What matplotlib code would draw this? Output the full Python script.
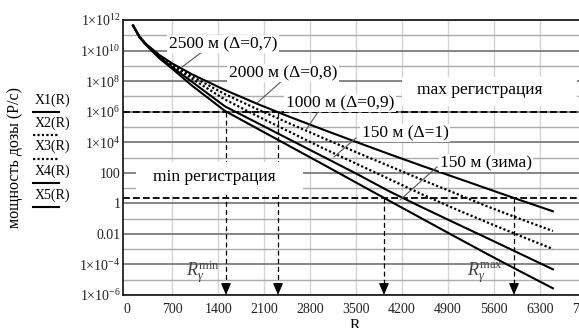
import numpy as np
import matplotlib
matplotlib.use("Agg")
import matplotlib.pyplot as plt
from matplotlib.patches import Rectangle
from matplotlib.lines import Line2D

plt.rcParams['font.family'] = ['Liberation Serif', 'DejaVu Serif']
plt.rcParams['mathtext.fontset'] = 'custom'
plt.rcParams['mathtext.rm'] = 'Liberation Serif'
plt.rcParams['mathtext.it'] = 'Liberation Serif:italic'
plt.rcParams['mathtext.bf'] = 'Liberation Serif:bold'

# ---------------- data ----------------
R = [100, 200, 300, 500, 700, 1000, 1500, 2000, 2500, 3000, 3500, 4000,
     4500, 5000, 5500, 6000, 6500]
# log10 of dose rate for each curve
X1 = [11.64, 10.90, 10.42, 9.71, 9.15, 8.44, 7.42, 6.50, 5.64, 4.82, 4.02,
      3.23, 2.46, 1.71, 0.96, 0.21, -0.52]
X2 = [11.64, 10.89, 10.40, 9.67, 9.08, 8.30, 7.15, 6.15, 5.20, 4.27, 3.35,
      2.45, 1.55, 0.68, -0.20, -1.02, -1.81]
X3 = [11.64, 10.88, 10.39, 9.63, 9.00, 8.15, 6.80, 5.70, 4.65, 3.60, 2.60,
      1.60, 0.60, -0.35, -1.25, -2.13, -2.99]
X4 = [11.64, 10.87, 10.38, 9.58, 8.90, 7.95, 6.35, 5.25, 4.15, 3.05, 1.95,
      0.80, -0.25, -1.27, -2.28, -3.30, -4.32]
X5 = [11.64, 10.85, 10.35, 9.50, 8.80, 7.70, 6.05, 4.88, 3.71, 2.54, 1.36,
      0.18, -0.99, -2.16, -3.32, -4.45, -5.56]
series_names = ["X1(R)", "X2(R)", "X3(R)", "X4(R)", "X5(R)"]
series_styles = ["solid", "dotted", "dotted", "solid", "solid"]

max_reg = 1e6
min_reg = 2.2
R_from_max = [1517, 2310]   # arrows starting at max registration level
R_from_min = [3925, 5907]   # arrows starting at min registration level

x_ticks = [0, 700, 1400, 2100, 2800, 3500, 4200, 4900, 5600, 6300, 7000]
y_ticks = [1e12, 1e10, 1e8, 1e6, 1e4, 100, 1, 0.01, 1e-4, 1e-6]
y_ticklabels = [r'$1{\times}10^{12}$', r'$1{\times}10^{10}$', r'$1{\times}10^{8}$',
                r'$1{\times}10^{6}$', r'$1{\times}10^{4}$', '100', '1', '0.01',
                r'$1{\times}10^{-4}$', r'$1{\times}10^{-6}$']
curve_labels = ["2500 м (Δ=0,7)", "2000 м (Δ=0,8)", "1000 м (Δ=0,9)",
                "150 м (Δ=1)", "150 м (зима)"]

# ---------------- figure ----------------
W, H = 579, 328
fig = plt.figure(figsize=(W / 100, H / 100), dpi=100)
ax_l, ax_r, ax_t, ax_b = 123.2, 585.7, 20.0, 295.0
ax = fig.add_axes([ax_l / W, (H - ax_b) / H, (ax_r - ax_l) / W, (ax_b - ax_t) / H])
ax.set_yscale('log')
ax.set_xlim(-50, 7000)
ax.set_ylim(1e-6, 1e12)

def P(x, y):
    """pixel (from top-left) -> data coords"""
    return ((x - 126.5) / 0.0656, 10 ** (12 - (y - 20) / 15.28))

def F(x, y):
    return (x / W, 1 - y / H)

# grid
for e in range(-6, 13):
    if e % 2 == 0:
        ax.axhline(10.0 ** e, color='#7c7c7c', lw=1.3, zorder=1)
    else:
        ax.axhline(10.0 ** e, color='#ababab', lw=1.0, zorder=1)
for xv in x_ticks[1:]:
    ax.axvline(xv, color='#d4d4d4', lw=1.0, zorder=0.9)

# white boxes behind region labels
for (x0, y0, x1, y1) in [(136, 162, 303, 195), (402, 77, 577, 106)]:
    fx0, fy0 = F(x0, y1)
    ax.add_patch(Rectangle((fx0, fy0), (x1 - x0) / W, (y1 - y0) / H,
                           transform=fig.transFigure, facecolor='white',
                           edgecolor='none', zorder=2, clip_on=False))

# registration levels
for lvl in [max_reg, min_reg]:
    ax.axhline(lvl, color='black', lw=1.3, dashes=(3.8, 1.7), zorder=3.5)

# arrows
ymin = 1e-6
for starts, lvl in [(R_from_max, max_reg), (R_from_min, min_reg)]:
    for xv in starts:
        ax.plot([xv, xv], [lvl, 10 ** -5.4], color='black', lw=0.9,
                dashes=(4, 2.5), zorder=1.8)
        ax.annotate('', xy=(xv, ymin), xytext=(xv, 10 ** -5.35),
                    arrowprops=dict(arrowstyle='-|>,head_length=0.7,head_width=0.3',
                                    color='black', lw=0.9, shrinkA=0, shrinkB=0),
                    zorder=4)

# curves
Rarr = np.array(R)
for vals, st in zip([X1, X2, X3, X4, X5], series_styles):
    y = 10.0 ** np.array(vals)
    if st == 'solid':
        ax.plot(Rarr, y, color='black', lw=1.5, zorder=3)
    else:
        ax.plot(Rarr, y, color='black', lw=1.6, dashes=(1.0, 1.0), zorder=3)

# region labels
ax.text(*P(214, 177), 'min регистрация', fontsize=12.5, ha='center',
        va='center', zorder=5)
ax.text(*P(480, 90), 'max регистрация', fontsize=12.5, ha='center',
        va='center', zorder=5)

# curve labels with leader lines
label_pos = [(223, 44), (283, 73), (340, 103), (405, 133), (486, 163)]
leaders = [((202, 52), (182, 67)), ((284, 79), (257, 103)),
           ((318, 112), (306, 130)), ((356, 138), (334, 157)),
           ((437, 167), (400, 200))]
for txt, (tx, ty), (a, b) in zip(curve_labels, label_pos, leaders):
    ax.text(*P(tx, ty), txt, fontsize=12.5, ha='center', va='center', zorder=5,
            bbox=dict(facecolor='white', edgecolor='none', boxstyle='square,pad=0.08'))
    pa, pb = P(*a), P(*b)
    ax.plot([pa[0], pb[0]], [pa[1], pb[1]], color='#555555', lw=0.8, zorder=4.5)

# R_gamma labels
ax.text(*P(186, 272), r'$R_{\gamma}^{\mathrm{min}}$', fontsize=13, ha='left',
        va='center', color='#444444', zorder=5)
ax.text(*P(467, 273), r'$R_{\gamma}^{\mathrm{max}}$', fontsize=13, ha='left',
        va='center', color='#444444', zorder=5)

# axes formatting
ax.set_xticks(x_ticks)
ax.set_xticklabels([str(v) for v in x_ticks])
ax.set_yticks(y_ticks)
ax.set_yticklabels(y_ticklabels)
ax.minorticks_off()
ax.tick_params(axis='both', length=0, labelsize=10, colors='#222222')
ax.tick_params(axis='x', pad=6)
ax.tick_params(axis='y', pad=2)
for s in ax.spines.values():
    s.set_linewidth(1.3)
    s.set_color('#222222')
ax.set_xlabel('R', fontsize=11, labelpad=2)

# y label
fig.text(*F(15, 158), 'мощность дозы (Р/с)', rotation=90, fontsize=11.5,
         ha='center', va='center')

# legend on the left
text_y = [100, 123.3, 146.7, 171.7, 195]
line_y = [111.7, 135, 159, 182.7, 207.3]
for name, st, ty, ly in zip(series_names, series_styles, text_y, line_y):
    fig.text(*F(52.5, ty), name, fontsize=10, ha='center', va='center')
    x0, y0 = F(33, ly)
    x1, _ = F(59, ly)
    if st == 'solid':
        ln = Line2D([x0, x1], [y0, y0], color='black', lw=1.5,
                    transform=fig.transFigure)
    else:
        ln = Line2D([x0, x1], [y0, y0], color='black', lw=1.6, dashes=(1.0, 1.0),
                    transform=fig.transFigure)
    fig.add_artist(ln)

fig.savefig('out.png', dpi=100)
